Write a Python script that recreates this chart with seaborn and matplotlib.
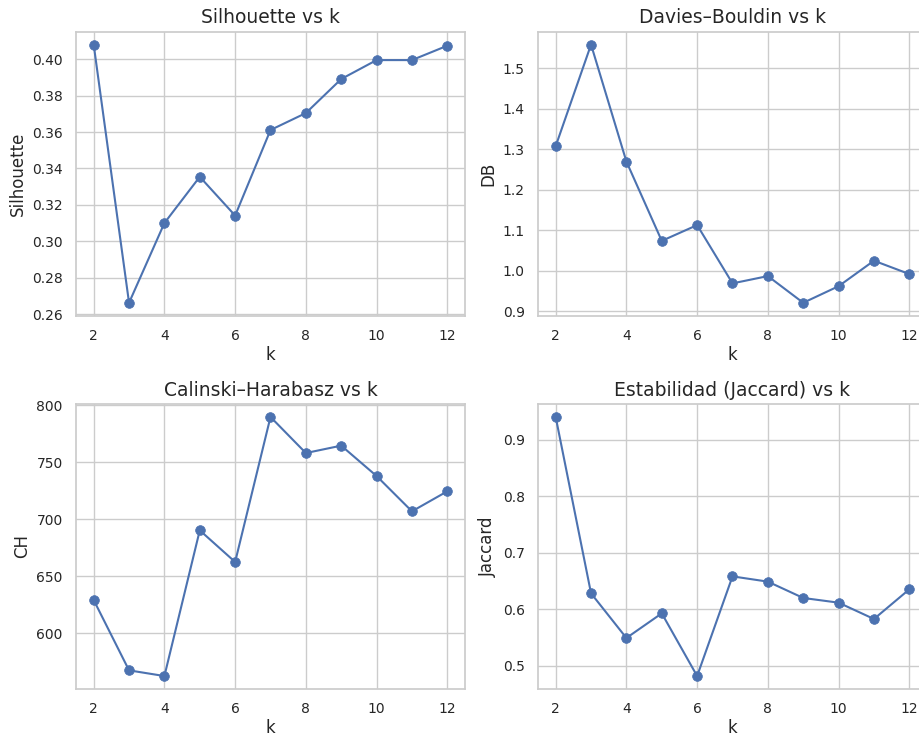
import matplotlib
matplotlib.use("Agg")
import matplotlib.pyplot as plt
import seaborn as sns
import numpy as np

k_values = [2, 3, 4, 5, 6, 7, 8, 9, 10, 11, 12]
silhouette = [0.408, 0.2662, 0.310, 0.3354, 0.3141, 0.3611, 0.3704, 0.3891, 0.3995, 0.3995, 0.4074]
davies_bouldin = [1.308, 1.559, 1.270, 1.074, 1.113, 0.969, 0.987, 0.921, 0.962, 1.025, 0.992]
calinski = [629.0, 567.2, 562.2, 690.2, 662.4, 789.8, 758.1, 764.6, 737.9, 706.9, 724.5]
jaccard = [0.940, 0.628, 0.549, 0.5926, 0.4817, 0.658, 0.6487, 0.6198, 0.6115, 0.5826, 0.6351]

titles = ["Silhouette vs k", "Davies\u2013Bouldin vs k",
          "Calinski\u2013Harabasz vs k", "Estabilidad (Jaccard) vs k"]
ylabels = ["Silhouette", "DB", "CH", "Jaccard"]

sns.set_theme(style="whitegrid")
W, H = 920, 736
fig = plt.figure(figsize=(W / 100, H / 100), dpi=100)

def pos(x0, y0, x1, y1):
    return [x0 / W, 1 - y1 / H, (x1 - x0) / W, (y1 - y0) / H]

positions = [pos(76, 31.7, 465, 315.7), pos(538, 31.7, 927, 315.7),
             pos(76, 404, 465, 689), pos(538, 404, 927, 689)]
series = [silhouette, davies_bouldin, calinski, jaccard]

for p, vals, t, yl in zip(positions, series, titles, ylabels):
    ax = fig.add_axes(p)
    sns.lineplot(x=k_values, y=vals, marker="o", ax=ax, color="#4C72B0",
                 markersize=7, markeredgecolor="#4C72B0", markeredgewidth=0.5)
    ax.set_title(t, fontsize=13.5)
    ax.set_xlabel("k", fontsize=12, labelpad=2)
    ax.set_ylabel(yl, fontsize=12)
    ax.tick_params(labelsize=10)

fig.savefig("out.png", dpi=100)
